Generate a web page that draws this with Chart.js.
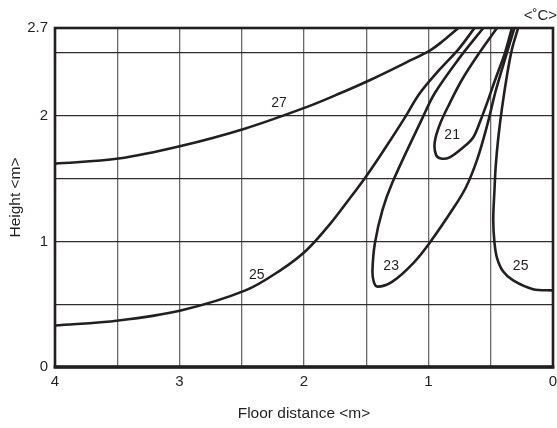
<!DOCTYPE html>
<html>
<head>
<meta charset="utf-8">
<script src="https://cdn.jsdelivr.net/npm/chart.js@4"></script>
<style>
  html, body { margin: 0; padding: 0; background: #fff; }
  #wrap { width: 557px; height: 428px; }
</style>
</head>
<body>
<div id="wrap"><canvas id="c" width="557" height="428"></canvas></div>
<script>
// isotherm curves, [floor distance m, height m]
const ISO_27 = [[4.00, 1.62], [3.49, 1.66], [2.99, 1.76], [2.47, 1.90], [1.98, 2.07], [1.71, 2.18], [1.46, 2.29], [1.17, 2.43], [0.99, 2.52], [0.88, 2.60], [0.76, 2.70]];
const ISO_25_LEFT = [[4.00, 0.33], [3.49, 0.37], [2.99, 0.45], [2.47, 0.61], [2.19, 0.77], [1.98, 0.93], [1.79, 1.14], [1.65, 1.32], [1.50, 1.52], [1.35, 1.74], [1.20, 1.97], [1.07, 2.18], [0.91, 2.37], [0.76, 2.53], [0.63, 2.70]];
const ISO_23 = [[0.56, 2.70], [0.76, 2.45], [0.95, 2.18], [1.05, 1.98], [1.29, 1.47], [1.37, 1.25], [1.43, 0.99], [1.45, 0.77], [1.44, 0.68], [1.41, 0.64], [1.29, 0.68], [1.12, 0.83], [0.99, 0.99], [0.81, 1.25], [0.70, 1.43], [0.61, 1.65], [0.53, 1.92], [0.46, 2.20], [0.38, 2.47], [0.31, 2.70]];
const ISO_21 = [[0.45, 2.70], [0.60, 2.49], [0.73, 2.29], [0.83, 2.10], [0.91, 1.93], [0.95, 1.79], [0.94, 1.69], [0.90, 1.66], [0.83, 1.67], [0.72, 1.75], [0.64, 1.83], [0.58, 1.97], [0.52, 2.13], [0.46, 2.30], [0.39, 2.49], [0.33, 2.70]];
const ISO_25_RIGHT = [[0.28, 2.70], [0.33, 2.53], [0.37, 2.32], [0.41, 2.06], [0.44, 1.82], [0.46, 1.60], [0.47, 1.41], [0.48, 1.17], [0.47, 0.99], [0.45, 0.87], [0.40, 0.76], [0.32, 0.69], [0.16, 0.62], [0.00, 0.61]];

const CURVE_LABELS = ["27", "25", "23", "21", "25"];
const CURVE_LABEL_POS = [[2.20, 2.10], [2.38, 0.73], [1.30, 0.80], [0.81, 1.85], [0.26, 0.80]];

const X_TICKS = [0, 0.5, 1, 1.5, 2, 2.5, 3, 3.5, 4];
const X_TICK_LABELS = ["0", "", "1", "", "2", "", "3", "", "4"];
const Y_TICKS = [0, 0.5, 1, 1.5, 2, 2.5, 2.7];
const Y_TICK_LABELS = ["0", "", "1", "", "2", "", "2.7"];

const FONT = "'Liberation Sans', Arial, sans-serif";
const INK = "#231f20";

const curves = [ISO_27, ISO_25_LEFT, ISO_23, ISO_21, ISO_25_RIGHT];
const datasets = curves.map(c => ({
  data: c.map(([x, y]) => ({ x, y })),
  showLine: true,
  borderColor: INK,
  borderWidth: 2.6,
  pointRadius: 0,
  tension: 0.35,
  fill: false,
}));

const boxAndLabels = {
  id: "boxAndLabels",
  afterDatasetsDraw(chart) {
    const { ctx, chartArea: a, scales: { x, y } } = chart;
    ctx.save();
    ctx.strokeStyle = INK;
    ctx.lineWidth = 2.6;
    ctx.strokeRect(a.left, a.top, a.right - a.left, a.bottom - a.top);
    ctx.lineWidth = 3.4;
    ctx.beginPath();
    ctx.moveTo(a.left - 1.3, a.bottom);
    ctx.lineTo(a.right + 1.3, a.bottom);
    ctx.stroke();

    ctx.fillStyle = INK;
    ctx.font = "14px " + FONT;
    ctx.textAlign = "center";
    ctx.textBaseline = "middle";
    CURVE_LABELS.forEach((t, i) => {
      const [vx, vy] = CURVE_LABEL_POS[i];
      ctx.fillText(t, x.getPixelForValue(vx), y.getPixelForValue(vy));
    });
    ctx.font = "15px " + FONT;
    ctx.textAlign = "right";
    ctx.fillText("<˚C>", 557, 16);
    ctx.restore();
  },
};

new Chart(document.getElementById("c").getContext("2d"), {
  type: "scatter",
  data: { datasets },
  options: {
    responsive: false,
    animation: false,
    events: [],
    layout: { padding: { top: 28, right: 4, left: 0, bottom: 0 } },
    plugins: { legend: { display: false }, tooltip: { enabled: false } },
    scales: {
      x: {
        type: "linear", reverse: true, min: 0, max: 4,
        afterBuildTicks: s => { s.ticks = X_TICKS.map(v => ({ value: v })); },
        afterFit: s => { s.height = 61; },
        ticks: {
          color: INK, font: { family: FONT, size: 15 }, padding: 6, maxRotation: 0, autoSkip: false,
          callback: v => X_TICK_LABELS[X_TICKS.indexOf(v)],
        },
        grid: { color: "#6a6a6a", lineWidth: 1.3, drawTicks: false },
        border: { display: false },
        title: { display: true, text: "Floor distance <m>", color: INK, font: { family: FONT, size: 15.5 }, padding: { top: 0, bottom: 5 } },
      },
      y: {
        type: "linear", min: 0, max: 2.7,
        afterBuildTicks: s => { s.ticks = Y_TICKS.map(v => ({ value: v })); },
        afterFit: s => { s.width = 55; },
        ticks: {
          color: INK, font: { family: FONT, size: 15 }, padding: 7, autoSkip: false,
          callback: v => Y_TICK_LABELS[Y_TICKS.indexOf(v)],
        },
        grid: { color: "#2e2e2e", lineWidth: 1.3, drawTicks: false },
        border: { display: false },
        title: { display: true, text: "Height <m>", color: INK, font: { family: FONT, size: 15.5 }, padding: { top: 6, bottom: 0 } },
      },
    },
  },
  plugins: [boxAndLabels],
});
</script>
</body>
</html>
